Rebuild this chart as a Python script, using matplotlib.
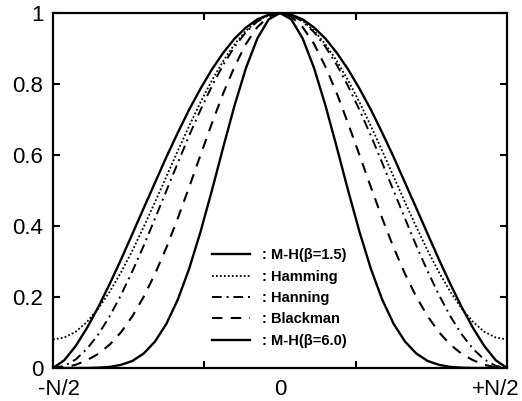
import numpy as np
import matplotlib.pyplot as plt
from matplotlib.transforms import ScaledTranslation

# half of each window, read at t = 0, 0.05, ..., 1.0 (t = 1 is the N/2 edge)
t_half = [0.0, 0.05, 0.1, 0.15, 0.2, 0.25, 0.3, 0.35, 0.4, 0.45, 0.5,
          0.55, 0.6, 0.65, 0.7, 0.75, 0.8, 0.85, 0.9, 0.95, 1.0]

mh15 = [1.0, 0.995, 0.982, 0.959, 0.928, 0.888, 0.841, 0.787, 0.728, 0.663, 0.595,
        0.523, 0.451, 0.378, 0.306, 0.237, 0.172, 0.113, 0.062, 0.022, 0.0]
hamming = [1.0, 0.994, 0.978, 0.950, 0.912, 0.865, 0.810, 0.749, 0.682, 0.612, 0.540,
           0.468, 0.398, 0.331, 0.270, 0.215, 0.168, 0.130, 0.102, 0.086, 0.080]
hanning = [1.0, 0.994, 0.976, 0.946, 0.905, 0.854, 0.794, 0.727, 0.655, 0.578, 0.500,
           0.422, 0.345, 0.273, 0.206, 0.146, 0.095, 0.054, 0.024, 0.006, 0.0]
blackman = [1.0, 0.990, 0.960, 0.913, 0.849, 0.774, 0.689, 0.600, 0.510, 0.422, 0.340,
            0.266, 0.201, 0.146, 0.101, 0.066, 0.040, 0.022, 0.009, 0.002, 0.0]
mh60 = [1.0, 0.982, 0.928, 0.845, 0.740, 0.622, 0.500, 0.384, 0.280, 0.193, 0.125,
        0.075, 0.041, 0.020, 0.009, 0.003, 0.001, 0.0, 0.0, 0.0, 0.0]

labels = [': M-H(β=1.5)', ': Hamming', ': Hanning', ': Blackman', ': M-H(β=6.0)']
x_ticklabels = ['-N/2', '0', '+N/2']
y_ticks = [0, 0.2, 0.4, 0.6, 0.8, 1]
y_ticklabels = ['0', '0.2', '0.4', '0.6', '0.8', '1']


def full(half):
    """ Mirror a half window about t = 0. """
    half = np.asarray(half)
    return np.concatenate([half[::-1], half[1:]])


t = np.asarray(t_half)
x = np.concatenate([-t[::-1], t[1:]])

plt.rcParams['font.family'] = ['Liberation Sans', 'DejaVu Sans']

fig = plt.figure(figsize=(5.22, 4.01), dpi=100)
ax = fig.add_axes([0.1015, 0.0823, 0.8698, 0.8853])

styles = [
    dict(color='black', lw=1.7, ls='-'),
    dict(color='black', lw=1.3, ls=(0, (1, 1.2))),
    dict(color='black', lw=1.4, ls=(0, (5, 2.5, 1, 2.5))),
    dict(color='black', lw=1.5, ls=(0, (5, 4))),
    dict(color='black', lw=1.7, ls='-'),
]
for y, lab, st in zip([mh15, hamming, hanning, blackman, mh60], labels, styles):
    ax.plot(x, full(y), label=lab, **st)

ax.set_xlim(-1, 1)
ax.set_ylim(0, 1)
ax.set_xticks([-1, 0, 1])
ax.set_xticklabels(x_ticklabels)
ax.set_xticks([-1 / 3, 1 / 3], minor=True)
ax.set_yticks(y_ticks)
ax.set_yticklabels(y_ticklabels)
ax.tick_params(axis='x', which='major', length=0, pad=8, labelsize=16)
ax.tick_params(axis='x', which='minor', direction='in', length=5, width=1.5,
               top=True, bottom=True)
ax.tick_params(axis='y', direction='in', length=5, width=1.5, pad=7,
               labelsize=16, left=True, right=True)
for sp in ax.spines.values():
    sp.set_linewidth(1.6)

# the end labels sit a little inside the axis ends
xl = ax.get_xticklabels()
for lab, dx in zip([xl[0], xl[2]], [6.5, -11]):
    lab.set_transform(lab.get_transform() + ScaledTranslation(dx / 100, 0, fig.dpi_scale_trans))

ax.legend(loc='center left', bbox_to_anchor=(0.3245, 0.197), frameon=False,
          prop=dict(weight='bold', size=10.5), handlelength=2.6,
          handletextpad=0.8, labelspacing=0.5, borderpad=0.3)

fig.savefig('out.png', dpi=100)
